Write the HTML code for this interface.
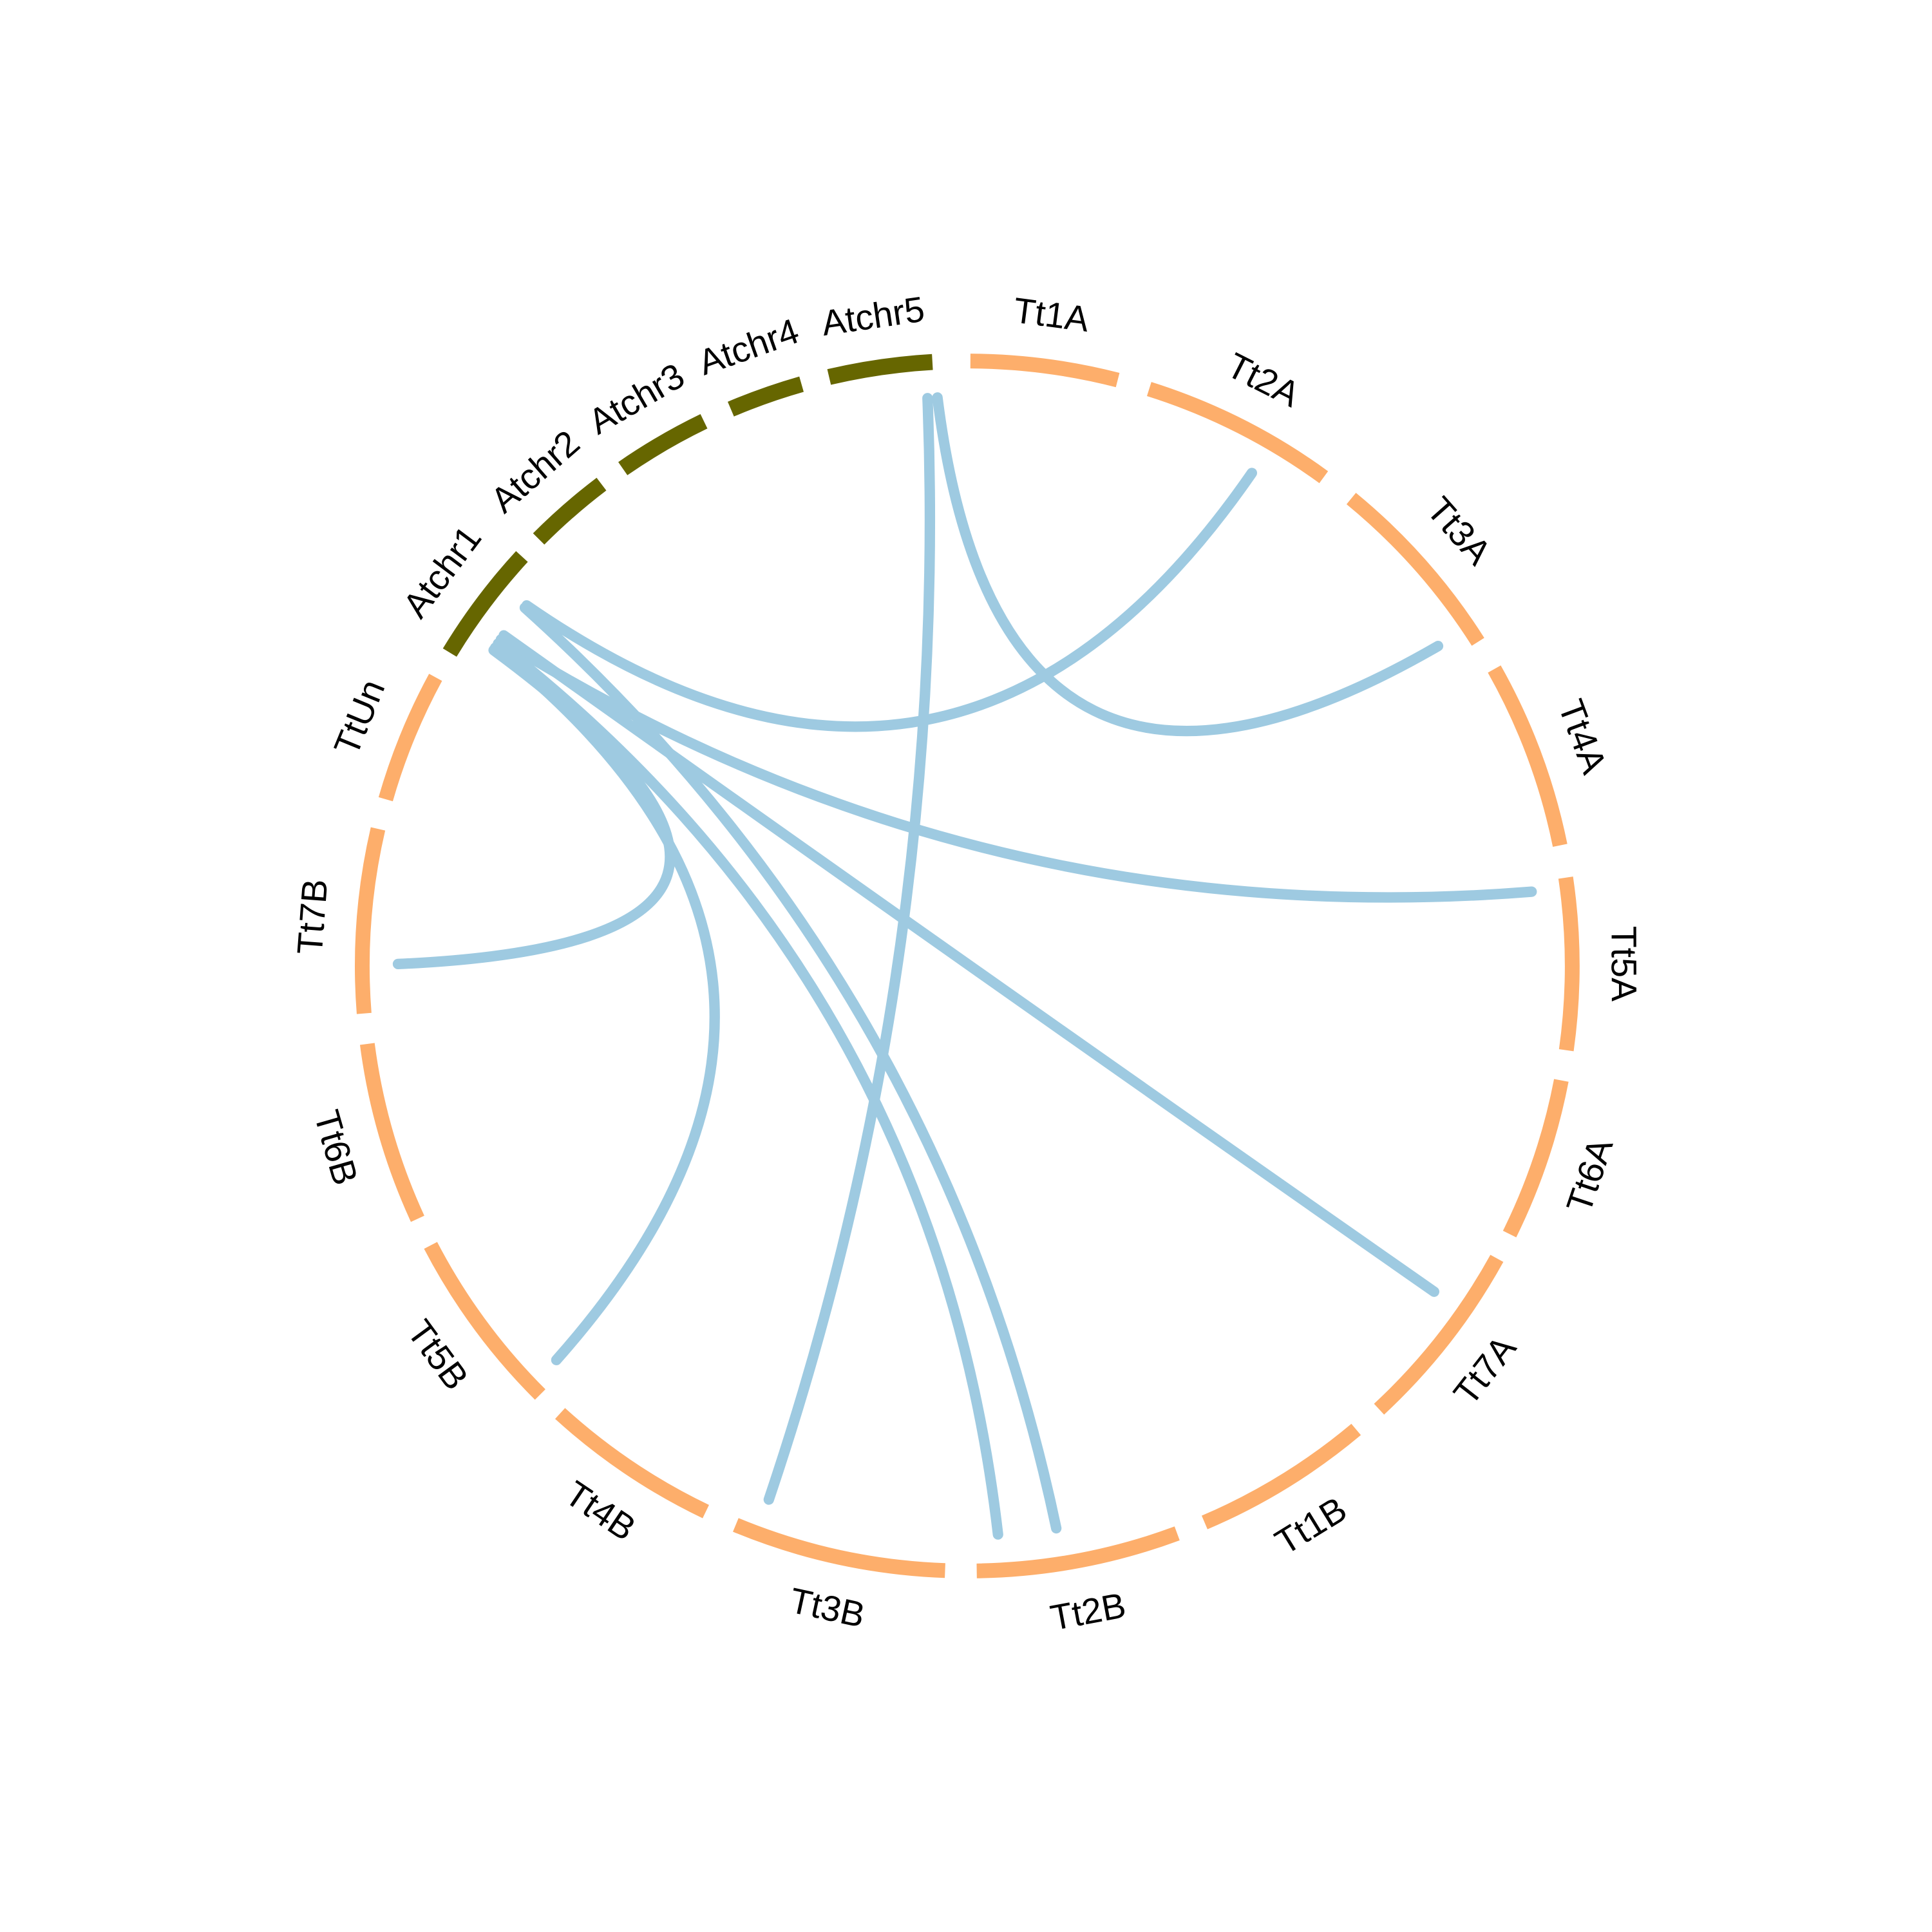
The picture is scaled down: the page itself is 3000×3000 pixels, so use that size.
<!DOCTYPE html>
<html><head><meta charset="utf-8"><style>
html,body{margin:0;padding:0;background:#fff}
svg{display:block}
text{font-family:"Liberation Sans","DejaVu Sans",sans-serif;font-size:29px;fill:#000}
</style></head><body>
<svg id="chart" width="3000" height="3000" viewBox="0 0 1568 1568" xmlns="http://www.w3.org/2000/svg">
<g id="arcs"></g>
<g id="links"></g>
<g id="labels"></g>
</svg>
<script>
const sectorNames = ["Tt1A","Tt2A","Tt3A","Tt4A","Tt5A","Tt6A","Tt7A","Tt1B","Tt2B","Tt3B","Tt4B","Tt5B","Tt6B","Tt7B","TtUn","Atchr1","Atchr2","Atchr3","Atchr4","Atchr5"];
const sectorStart = [0.3,17.5,39.4,60.6,81.6,100.9,118.9,140,159.7,182.1,205.6,224.9,245.3,265.5,286,301.2,314.9,325.3,337,346.8];
const sectorEnd = [14.4,36.1,57.6,78.5,98,116.3,137.1,156.9,179.1,202.5,222.3,242.5,262.6,283.1,298.5,312.6,322.8,334.2,344.1,356.7];
const linkFrom = [356, 357, 309.3, 305, 305.5, 303.7, 304, 304.5, 309];
const linkTo = [200.4, 55.8, 30, 82.5, 124.9, 270.2, 226.2, 176.9, 171];

const cx = 785, cy = 784, R = 491, RL = 462, RT = 533, K = 0.85;
const svg = "http://www.w3.org/2000/svg";
function pt(a, r){ const t = a*Math.PI/180; return [cx + r*Math.sin(t), cy - r*Math.cos(t)]; }

const arcs = document.getElementById('arcs');
sectorNames.forEach((n,i)=>{
  const a0 = sectorStart[i], a1 = sectorEnd[i];
  const p0 = pt(a0,R), p1 = pt(a1,R);
  const olive = n.startsWith('Atchr');
  const p = document.createElementNS(svg,'path');
  p.setAttribute('d', `M${p0[0]},${p0[1]} A${R},${R} 0 ${(a1-a0)>180?1:0} 1 ${p1[0]},${p1[1]}`);
  p.setAttribute('fill','none');
  p.setAttribute('stroke', olive ? '#666600' : '#fdae6b');
  p.setAttribute('stroke-width', olive ? 13 : 12);
  
  
  arcs.appendChild(p);

  const m = (a0+a1)/2;
  const lp = pt(m, RT);
  let rot = m;
  if (m > 95 && m <= 265) rot = m - 180; else if (m > 265) rot = m - 360;
  const t = document.createElementNS(svg,'text');
  t.setAttribute('x', lp[0]); t.setAttribute('y', lp[1]);
  t.setAttribute('text-anchor','middle');
  t.setAttribute('dominant-baseline','central');
  t.setAttribute('transform', `rotate(${rot} ${lp[0]} ${lp[1]})`);
  t.textContent = n;
  
  
  document.getElementById('labels').appendChild(t);
});

const links = document.getElementById('links');
linkFrom.forEach((a,i)=>{
  const p0 = pt(a, RL), p2 = pt(linkTo[i], RL);
  const mx = (p0[0]+p2[0])/2, my = (p0[1]+p2[1])/2;
  const c = [mx + K*(cx-mx), my + K*(cy-my)];
  const p = document.createElementNS(svg,'path');
  p.setAttribute('d', `M${p0[0]},${p0[1]} Q${c[0]},${c[1]} ${p2[0]},${p2[1]}`);
  p.setAttribute('fill','none');
  p.setAttribute('stroke','#9ecae1');
  p.setAttribute('stroke-width', 8.5);
  p.setAttribute('stroke-linecap','round');
  
  
  links.appendChild(p);
});
</script>
</body></html>
